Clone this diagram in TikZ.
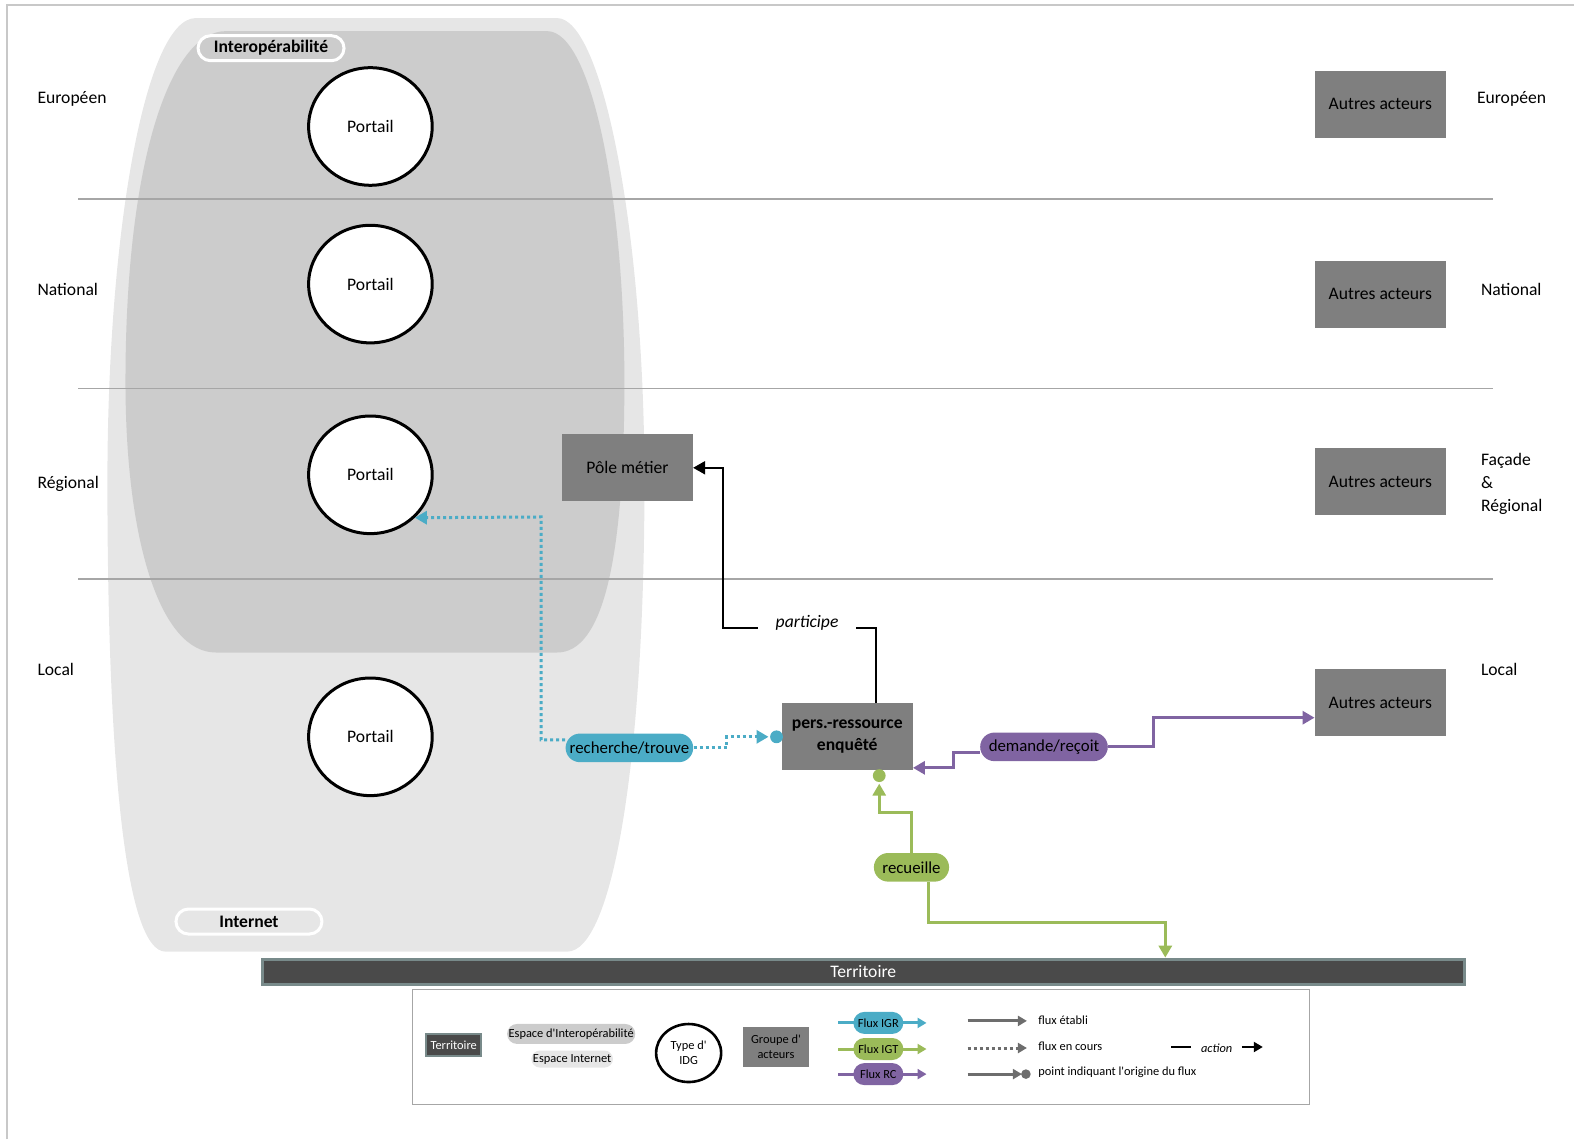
\documentclass[tikz,border=0pt]{standalone}
\usepackage{fontspec}
\setmainfont{Carlito}
\usetikzlibrary{arrows.meta,shapes.geometric,shapes.misc}
\definecolor{cblue}{HTML}{4BACC6}
\definecolor{cgreen}{HTML}{9BBB59}
\definecolor{cpurple}{HTML}{8064A2}
\definecolor{actgray}{HTML}{7F7F7F}
\definecolor{outergray}{HTML}{E6E6E6}
\definecolor{innergray}{HTML}{CCCCCC}
\definecolor{lvlgray}{HTML}{A6A6A6}
\definecolor{framegray}{HTML}{C8C8C8}
\definecolor{terrdark}{HTML}{4A4A4A}
\definecolor{terrborder}{HTML}{788A8A}
\definecolor{leggray}{HTML}{6D6D6D}
\newcommand\mainsz{\fontsize{8.8}{10.8}\selectfont}
\newcommand\pillsz{\fontsize{8.4}{10}\selectfont}
\newcommand\legsz{\fontsize{6.2}{7.6}\selectfont}
\newcommand\apos{\textquotesingle}
\tikzset{
 lvl/.style={inner sep=0, font=\mainsz, anchor=west, align=left},
 actor/.style={fill=actgray, minimum width=65.3pt, minimum height=33.4pt, font=\mainsz, inner sep=0, align=center},
 portail/.style={ellipse, draw=black, line width=1.5pt, fill=white, minimum width=61.8pt, minimum height=58.8pt, inner sep=0, font=\mainsz},
 pill/.style={rounded rectangle, inner sep=0, minimum height=14.3pt, font=\pillsz, text=black},
 spacelbl/.style={rounded rectangle, draw=white, line width=1.5pt, inner sep=0, minimum height=12.5pt, minimum width=73pt, font=\mainsz\bfseries},
 flowline/.style={line width=1.5pt},
 dotline/.style={line width=1.5pt, dash pattern=on 1.5pt off 1.5pt},
 arrtip/.style={-{Triangle[length=6pt,width=6.5pt]}},
 smalltip/.style={-{Triangle[length=4.5pt,width=5pt]}},
 actline/.style={line width=1pt, black},
 lvlline/.style={lvlgray, line width=0.75pt},
 legpill/.style={rounded rectangle, inner sep=0, minimum height=11pt, minimum width=25pt, font=\legsz, text=black},
 legtxt/.style={font=\legsz, inner sep=0, anchor=west},
}
\begin{document}
\begin{tikzpicture}[x=0.50191pt,y=-0.50191pt]
\useasboundingbox (0,0) rectangle (1568,1135);
% frame
\draw[framegray, line width=1pt] (7,1135) -- (7,5) -- (1568,5);
% spaces
\fill[outergray] (195,18) -- (555,18) .. controls (600,18) and (642,230) .. (642,480)
  .. controls (642,760) and (610,948) .. (565,948) -- (165,948)
  .. controls (125,948) and (107,760) .. (107,480)
  .. controls (107,230) and (145,18) .. (195,18) -- cycle;
\fill[innergray] (225,31) -- (545,31) .. controls (590,31) and (622,200) .. (622,380)
  .. controls (622,560) and (600,650) .. (555,650) -- (215,650)
  .. controls (160,650) and (125,540) .. (125,380)
  .. controls (125,160) and (170,31) .. (225,31) -- cycle;
% level lines
\draw[lvlline] (78,198) -- (1487,198);
\draw[lvlline] (78,387) -- (1487,387);
\draw[lvlline] (78,577) -- (1487,577);
% space labels
\node[spacelbl, fill=innergray] (interop) at (270,48) {Interopérabilité};
\node[spacelbl, fill=outergray] (internet) at (248,918) {Internet};
% level labels
\node[lvl] (lEu) at (37,99) {Européen};
\node[lvl] (lNa) at (37,288) {National};
\node[lvl] (lRe) at (37,482) {Régional};
\node[lvl] (lLo) at (37,667) {Local};
\node[lvl] (rEu) at (1471,99) {Européen};
\node[lvl] (rNa) at (1475,288) {National};
\node[lvl] (rRe) at (1475,482) {Façade\\[0.5pt]\&\\[0.5pt]Régional};
\node[lvl] (rLo) at (1475,667) {Local};
% portails
\node[portail] (p1) at (369,126) {Portail};
\node[portail] (p2) at (369,283) {Portail};
\node[portail] (p3) at (369,473) {Portail};
\node[portail] (p4) at (369,734) {Portail};
% actors
\node[actor] (a1) at (1375,104) {Autres acteurs};
\node[actor] (a2) at (1375,293) {Autres acteurs};
\node[actor] (a3) at (1375,480) {Autres acteurs};
\node[actor] (a4) at (1375,700) {Autres acteurs};
\node[actor] (pole) at (625,466) {Pôle métier};
\node[actor, font=\mainsz\bfseries] (pers) at (844,734) {pers.-ressource\\enquêté};
% territoire
\node[fill=terrdark, draw=terrborder, line width=1.5pt, minimum width=601pt, minimum height=12.6pt, inner sep=0, text=white, font=\mainsz] (terr) at (860,968) {Territoire};
% pills
\node[pill, fill=cblue, minimum width=63.8pt] (rech) at (627,745) {recherche/trouve};
\node[pill, fill=cpurple, minimum width=63.8pt] (dem) at (1040,744) {demande/reçoit};
\node[pill, fill=cgreen, minimum width=37.6pt] (rec) at (908,864) {recueille};
% blue flows
\coordinate (bturn) at (539,515);
\draw[dotline, cblue, arrtip] ([yshift=4pt]rech.west) -| (bturn) -- (p3.-44);
\draw[dotline, cblue, arrtip] (rech.east) -- ++(33,0) |- ([xshift=-6.5pt]pers.west);
\fill[cblue] ([xshift=-2.5pt]pers.west) circle (3.2pt);
% purple flows
\draw[flowline, cpurple, arrtip] (dem.east) -- ++(45,0) |- ([yshift=-7.5pt]a4.west);
\draw[flowline, cpurple, arrtip] ([yshift=-3pt]dem.west) -- ++(-26,0) |- ([yshift=-15.5pt]pers.east);
% green flows
\draw[flowline, cgreen, arrtip] (rec.north) -- ++(0,-40) -| ([xshift=16pt,yshift=-6.5pt]pers.south);
\fill[cgreen] ([xshift=16pt,yshift=-2.5pt]pers.south) circle (3.2pt);
\draw[flowline, cgreen, arrtip] ([xshift=8.5pt]rec.south) -- ++(0,40) -| ([xshift=151pt]terr.north);
% action participe
\node[font=\mainsz\itshape, inner sep=0] (part) at (804,620) {participe};
\coordinate (pright) at (853,626);
\coordinate (pleft) at (755,626);
\coordinate (pvert) at (720,466);
\draw[actline] ([xshift=14.6pt]pers.north) |- (pright);
\draw[actline, arrtip] (pleft) -| (pvert) -- (pole.east);
% legend
\node[draw=lvlgray, line width=0.6pt, minimum width=448.5pt, minimum height=57.2pt, inner sep=0] (legend) at (858,1043) {};
\node[fill=terrdark, draw=terrborder, line width=1pt, minimum width=27.5pt, minimum height=11pt, inner sep=0, text=white, font=\legsz] (lterr) at (452,1041) {Territoire};
\node[legpill, fill=innergray, minimum width=64pt, minimum height=10pt] (lint) at (569,1030) {Espace d\apos Interopérabilité};
\node[legpill, fill=outergray, minimum width=40pt, minimum height=8.5pt] (linet) at (570,1055) {Espace Internet};
\node[ellipse, draw=black, line width=1.3pt, fill=white, minimum width=32.5pt, minimum height=29pt, inner sep=0, font=\legsz, align=center] (lidg) at (686,1049) {Type d\apos\\IDG};
\node[fill=actgray, minimum width=32.6pt, minimum height=20pt, inner sep=0, font=\legsz, align=center] (lgrp) at (773,1043) {Groupe d\apos\\acteurs};
% legend flux
\coordinate (lbA) at (835,1019); \coordinate (lbB) at (923,1019);
\coordinate (lgA) at (835,1045); \coordinate (lgB) at (923,1045);
\coordinate (lpA) at (835,1070); \coordinate (lpB) at (923,1070);
\draw[flowline, cblue, smalltip] (lbA) -- (lbB);
\draw[flowline, cgreen, smalltip] (lgA) -- (lgB);
\draw[flowline, cpurple, smalltip] (lpA) -- (lpB);
\node[legpill, fill=cblue] (figr) at (875,1019) {Flux IGR};
\node[legpill, fill=cgreen] (figt) at (875,1045) {Flux IGT};
\node[legpill, fill=cpurple] (frc) at (875,1070) {Flux RC};
% legend gray arrows
\coordinate (gsA) at (964,1017); \coordinate (gsB) at (1023,1017);
\coordinate (gdA) at (964,1044); \coordinate (gdB) at (1023,1044);
\coordinate (goA) at (964,1070); \coordinate (goB) at (1018,1070);
\draw[flowline, leggray, smalltip] (gsA) -- (gsB);
\draw[dotline, leggray, smalltip] (gdA) -- (gdB);
\draw[flowline, leggray, smalltip] (goA) -- (goB);
\fill[leggray] (1022,1070) circle (2.4pt);
\node[legtxt] (tfe) at (1034,1016) {flux établi};
\node[legtxt] (tfc) at (1034,1042) {flux en cours};
\node[legtxt] (tfo) at (1034,1068) {point indiquant l\apos origine du flux};
% legend action
\coordinate (aA) at (1167,1043); \coordinate (aB) at (1186,1043);
\coordinate (aC) at (1237,1043); \coordinate (aD) at (1258,1043);
\draw[actline] (aA) -- (aB);
\node[font=\legsz\itshape, inner sep=0] (tact) at (1212,1044) {action};
\draw[actline, smalltip] (aC) -- (aD);
\end{tikzpicture}
\end{document}
